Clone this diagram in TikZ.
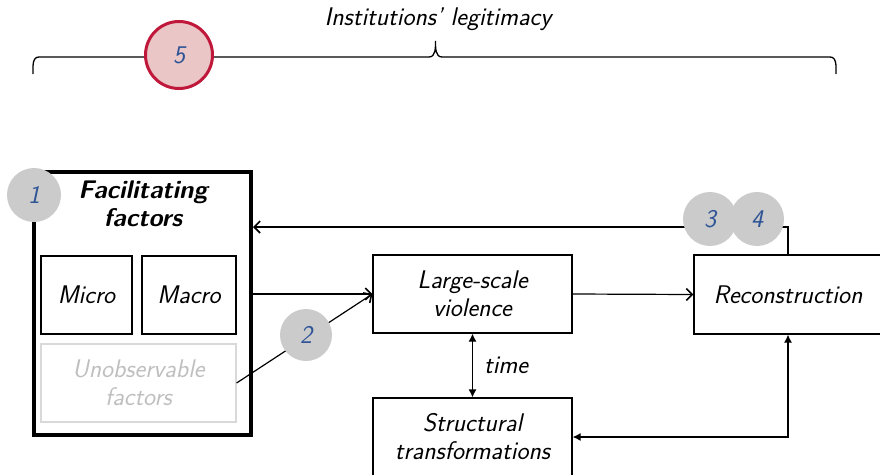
\documentclass[tikz,border=0pt]{standalone}
\usepackage{tikz}
\usetikzlibrary{arrows.meta}

\definecolor{numblue}{HTML}{2F5496}
\definecolor{dotgray}{HTML}{CBCBCB}
\definecolor{legred}{HTML}{C0183A}
\definecolor{legpink}{HTML}{EBC6C7}
\definecolor{paleline}{HTML}{D9D9D9}
\definecolor{paletext}{HTML}{BFBFBF}

\tikzset{
  txt/.style = {font=\fontsize{25.5}{28}\selectfont\sffamily\itshape, align=center, inner sep=0},
  box/.style = {txt, draw, line width=1.2pt},
  dot/.style = {txt, circle, fill=dotgray, minimum size=54pt, text=numblue},
  arr/.style = {line width=1.2pt, -{Straight Barb[length=6pt, width=12pt, line width=1.6pt]}},
  tip/.style = {line width=1.2pt, {Latex[length=8pt, width=8pt]}-{Latex[length=8pt, width=8pt]}}
}

\begin{document}
\begin{tikzpicture}[x = 1pt, y = -1pt]
\useasboundingbox (0, 0) rectangle (880, 474);

% brace on top
\node[txt] (legit) at (438, 19) {Institutions' legitimacy};
\draw[line width=1.3pt] (33, 74) to[out=90, in=180] (39, 57) -- (429, 57)
  to[out=0, in=-90] (435.5, 41) to[out=-90, in=180] (442, 57) -- (830, 57)
  to[out=0, in=90] (836, 74);

% boxes
\node[draw, line width=4pt, minimum width=217pt, minimum height=263pt] (fac) at (142.5, 303.5) {};
\node[txt, font=\fontsize{25.5}{28}\selectfont\sffamily\itshape\bfseries] (factitle) at (143, 204) {Facilitating\\factors};
\node[box, minimum width=91pt, minimum height=78pt] (micro) at (86.5, 295) {Micro};
\node[box, minimum width=94pt, minimum height=78pt] (macro) at (189, 295) {Macro};
\node[box, draw=paleline, text=paletext, minimum width=195pt, minimum height=78pt] (unobs) at (138.5, 383) {Unobservable\\factors};
\node[box, minimum width=199pt, minimum height=78pt] (lsv) at (472.5, 294) {Large-scale\\violence};
\node[box, minimum width=199pt, minimum height=78pt] (struct) at (472.5, 437) {Structural\\transformations};
\node[box, minimum width=188pt, minimum height=79pt] (rec) at (788, 294.5) {Reconstruction};

% connectors
\draw[arr] (rec.north) |- ([yshift=76.5pt]fac.east);
\draw[arr] (fac.east |- lsv.west) -- (lsv.west);
\draw[arr] (unobs.east) -- (lsv.west);
\draw[arr] (lsv.east) -- (rec.west);
\draw[tip] (lsv.south) -- (struct.north) node[txt, midway, right=11pt] {time};
\draw[tip] (struct.east) -| (rec.south);

% numbered dots
\node[dot] (one) at (34, 195) {1};
\node[dot, minimum size=52pt] (two) at (306, 335) {2};
\node[dot] (three) at (710, 219) {3};
\node[dot] (four) at (757, 219) {4};
\node[txt, circle, fill=legpink, draw=legred, line width=3pt, minimum size=67pt, text=numblue] (five) at (179, 55) {5};
\end{tikzpicture}
\end{document}
